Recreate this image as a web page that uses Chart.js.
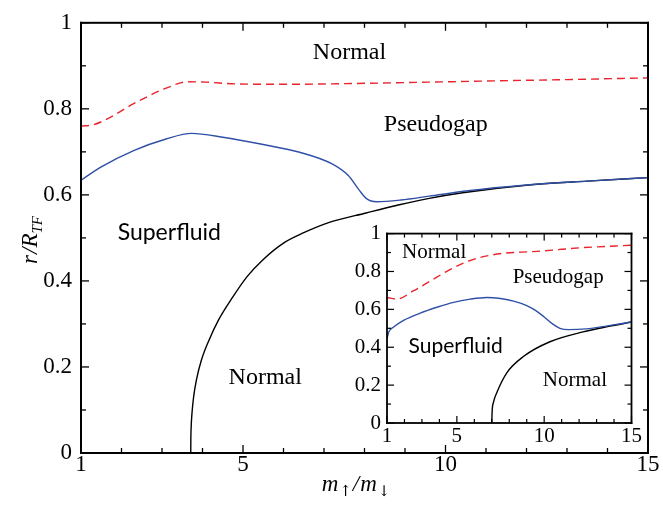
<!DOCTYPE html>
<html>
<head>
<meta charset="utf-8">
<script src="https://cdn.jsdelivr.net/npm/chart.js@4.4.1/dist/chart.umd.min.js"></script>
<style>
  html, body { margin: 0; padding: 0; background: #fff; }
  #wrap { position: relative; width: 663px; height: 509px; }
  #main { position: absolute; left: 0; top: 0; }
  #inset { position: absolute; left: 345px; top: 215px; }
</style>
</head>
<body>
<div id="wrap">
  <canvas id="main" width="663" height="509"></canvas>
  <canvas id="inset" width="300" height="235"></canvas>
</div>
<script>
// main panel curves (x = m_up/m_down, y = r/R_TF)
const mainRedX = [1, 1.3, 1.7, 2.3, 3.1, 3.64, 4.1, 4.8, 6, 7.1, 9, 11.2, 13, 15];
const mainRedY = [0.760, 0.763, 0.779, 0.812, 0.848, 0.863, 0.862, 0.858, 0.857, 0.858, 0.861, 0.865, 0.868, 0.872];

const mainBlueX = [1, 1.5, 2.3, 3.1, 3.73, 4.5, 5.5, 6.4, 7.2, 7.6, 7.87, 8.04, 8.3, 8.9, 9.6, 10.5, 12, 13.5, 15];
const mainBlueY = [0.634, 0.665, 0.703, 0.730, 0.743, 0.734, 0.717, 0.699, 0.672, 0.645, 0.611, 0.592, 0.584, 0.588, 0.597, 0.609, 0.623, 0.632, 0.640];

const mainBlackX = [3.71, 3.712, 3.72, 3.74, 3.78, 3.85, 3.97, 4.15, 4.4, 4.75, 5.1, 5.5, 6.0, 6.5, 7.13, 8.04, 8.86, 9.6, 10.42, 12.06, 13.5, 15];
const mainBlackY = [0, 0.03, 0.06, 0.092, 0.13, 0.17, 0.215, 0.26, 0.31, 0.363, 0.41, 0.45, 0.488, 0.512, 0.536, 0.558, 0.577, 0.592, 0.605, 0.623, 0.632, 0.640];

// inset curves
const insetRedX = [1, 1.57, 2.5, 3.47, 4.43, 5.38, 6.33, 7.66, 9.37, 11, 12.2, 13.5, 15];
const insetRedY = [0.663, 0.654, 0.697, 0.749, 0.801, 0.844, 0.874, 0.896, 0.905, 0.917, 0.926, 0.932, 0.939];

const insetBlueX = [1, 1.1, 1.38, 1.95, 2.9, 3.86, 4.81, 5.76, 6.71, 7.5, 8.3, 9.0, 9.5, 10.0, 10.5, 10.9, 11.4, 12.4, 13.7, 15];
const insetBlueY = [0.446, 0.48, 0.507, 0.542, 0.580, 0.611, 0.637, 0.654, 0.663, 0.657, 0.642, 0.620, 0.595, 0.560, 0.522, 0.500, 0.493, 0.497, 0.514, 0.533];

const insetBlackX = [7.0, 7.02, 7.1, 7.29, 7.86, 8.81, 10.33, 12.23, 13.7, 15];
const insetBlackY = [0, 0.06, 0.11, 0.161, 0.265, 0.351, 0.429, 0.481, 0.51, 0.533];

// ticks
const xLabelTicks = [1, 5, 10, 15];
const xMarkTicks = [1, 2, 3, 4, 5, 6, 7, 8, 9, 10, 11, 12, 13, 14, 15];
const yLabelTicks = [0, 0.2, 0.4, 0.6, 0.8, 1];
const yMarkTicks = [0, 0.1, 0.2, 0.3, 0.4, 0.5, 0.6, 0.7, 0.8, 0.9, 1];

// region names
const mainRegions = [
  { text: 'Normal', x: 7.63, y: 0.930, font: '24px "Liberation Serif"' },
  { text: 'Pseudogap', x: 9.76, y: 0.762, font: '24px "Liberation Serif"' },
  { text: 'Superfluid', x: 3.18, y: 0.512, font: '23px Lato' },
  { text: 'Normal', x: 5.55, y: 0.174, font: '24px "Liberation Serif"' }
];
const insetRegions = [
  { text: 'Normal', x: 3.70, y: 0.90, font: '21px "Liberation Serif"' },
  { text: 'Pseudogap', x: 10.8, y: 0.77, font: '21px "Liberation Serif"' },
  { text: 'Superfluid', x: 4.93, y: 0.403, font: '21px Lato' },
  { text: 'Normal', x: 11.76, y: 0.227, font: '21px "Liberation Serif"' }
];

const RED = '#e8242c';
const BLUE = '#3050a8';

function pts(xs, ys) {
  return xs.map((x, i) => ({ x: x, y: ys[i] }));
}

function curve(xs, ys, color, dashed) {
  return {
    data: pts(xs, ys),
    showLine: true,
    borderColor: color,
    borderWidth: 1.4,
    borderDash: dashed ? [8, 5] : [],
    pointRadius: 0,
    cubicInterpolationMode: 'monotone'
  };
}

// inward ticks on all four sides, the frame and the region names
function frameTicks(cfg) {
  return {
    id: 'frameTicks',
    beforeDatasetsDraw(chart) {
      if (!cfg.fill) return;
      const a = chart.chartArea;
      chart.ctx.save();
      chart.ctx.fillStyle = '#fff';
      chart.ctx.fillRect(a.left, a.top, a.right - a.left, a.bottom - a.top);
      chart.ctx.restore();
    },
    afterDraw(chart) {
      const ctx = chart.ctx;
      const a = chart.chartArea;
      const sx = chart.scales.x, sy = chart.scales.y;
      const w = cfg.tickWidth;
      ctx.save();
      ctx.fillStyle = '#000';
      xMarkTicks.forEach(v => {
        const px = sx.getPixelForValue(v);
        const len = xLabelTicks.includes(v) ? cfg.longTick : cfg.shortTick;
        ctx.fillRect(px - w / 2, a.bottom - len, w, len);
        ctx.fillRect(px - w / 2, a.top, w, len);
      });
      yMarkTicks.forEach((v, i) => {
        const py = sy.getPixelForValue(v);
        const len = i % 2 === 0 ? cfg.longTick : cfg.shortTick;
        ctx.fillRect(a.left, py - w / 2, len, w);
        ctx.fillRect(a.right - len, py - w / 2, len, w);
      });
      const f = cfg.frameWidth;
      ctx.fillRect(a.left - f / 2, a.top - f / 2, a.right - a.left + f, f);
      ctx.fillRect(a.left - f / 2, a.bottom - f / 2, a.right - a.left + f, f);
      ctx.fillRect(a.left - f / 2, a.top - f / 2, f, a.bottom - a.top + f);
      ctx.fillRect(a.right - f / 2, a.top - f / 2, f, a.bottom - a.top + f);

      ctx.textAlign = 'center';
      ctx.textBaseline = 'middle';
      cfg.regions.forEach(r => {
        ctx.font = r.font;
        ctx.fillText(r.text, sx.getPixelForValue(r.x), sy.getPixelForValue(r.y));
      });
      ctx.restore();
    }
  };
}

// axis titles with sub-scripts
function drawParts(ctx, parts, x0, y0) {
  let cx = x0;
  parts.forEach(p => {
    ctx.font = p[1];
    ctx.fillText(p[0], cx, y0 + p[2]);
    cx += ctx.measureText(p[0]).width + (p[3] || 0);
  });
}
function partsWidth(ctx, parts) {
  let w = 0;
  parts.forEach(p => { ctx.font = p[1]; w += ctx.measureText(p[0]).width + (p[3] || 0); });
  return w;
}

const axisTitles = {
  id: 'axisTitles',
  afterDraw(chart) {
    const ctx = chart.ctx;
    ctx.save();
    ctx.fillStyle = '#000';
    ctx.textAlign = 'left';
    ctx.textBaseline = 'alphabetic';
    const big = 'italic 23px "Liberation Serif"';
    const sub = 'italic 15px "Liberation Serif"';
    const arr = '15px "DejaVu Serif"';

    const xt = [['m', big, 0, 1], ['\u2191', arr, 5, 1], ['/', big, 0, 1], ['m', big, 0, 1], ['\u2193', arr, 5]];
    const wx = partsWidth(ctx, xt);
    drawParts(ctx, xt, 356 - wx / 2, 491);

    const yt = [['r', big, 0, 1], ['/', big, 0, 0], ['R', big, 0, 0], ['TF', sub, 5]];
    const wy = partsWidth(ctx, yt);
    ctx.translate(37, 240);
    ctx.rotate(-Math.PI / 2);
    drawParts(ctx, yt, -wy / 2, 0);
    ctx.restore();
  }
};

function scales(fontSize, yWidth, xHeight, yPad, xPad) {
  return {
    x: {
      type: 'linear', min: 1, max: 15,
      grid: { display: false, drawTicks: false },
      border: { display: false },
      afterBuildTicks: s => { s.ticks = xLabelTicks.map(v => ({ value: v })); },
      afterFit: s => { s.height = xHeight; },
      ticks: { color: '#000', padding: xPad, maxRotation: 0, callback: v => String(v),
               font: { family: 'Liberation Serif', size: fontSize, lineHeight: 1 } }
    },
    y: {
      type: 'linear', min: 0, max: 1,
      grid: { display: false, drawTicks: false },
      border: { display: false },
      afterBuildTicks: s => { s.ticks = yLabelTicks.map(v => ({ value: v })); },
      afterFit: s => { s.width = yWidth; },
      ticks: { color: '#000', padding: yPad, callback: v => String(v),
               font: { family: 'Liberation Serif', size: fontSize } }
    }
  };
}

const common = {
  responsive: false,
  animation: false,
  plugins: { legend: { display: false }, tooltip: { enabled: false } }
};

new Chart(document.getElementById('main'), {
  type: 'scatter',
  data: {
    datasets: [
      curve(mainRedX, mainRedY, RED, true),
      curve(mainBlueX, mainBlueY, BLUE, false),
      curve(mainBlackX, mainBlackY, '#000', false)
    ]
  },
  options: Object.assign({}, common, {
    layout: { padding: { left: 0, top: 17, right: 15, bottom: 0 } },
    scales: scales(23, 81, 56, 9, 0)
  }),
  plugins: [frameTicks({ longTick: 8, shortTick: 5, tickWidth: 1.3, frameWidth: 2, regions: mainRegions }), axisTitles]
});

new Chart(document.getElementById('inset'), {
  type: 'scatter',
  data: {
    datasets: [
      curve(insetRedX, insetRedY, RED, true),
      curve(insetBlueX, insetBlueY, BLUE, false),
      curve(insetBlackX, insetBlackY, '#000', false)
    ]
  },
  options: Object.assign({}, common, {
    layout: { padding: { left: 0, top: 15, right: 13, bottom: 0 } },
    scales: scales(21, 42, 27, 6, 3)
  }),
  plugins: [frameTicks({ longTick: 7, shortTick: 4, tickWidth: 1.2, frameWidth: 1.8, fill: true, regions: insetRegions })]
});
</script>
</body>
</html>
